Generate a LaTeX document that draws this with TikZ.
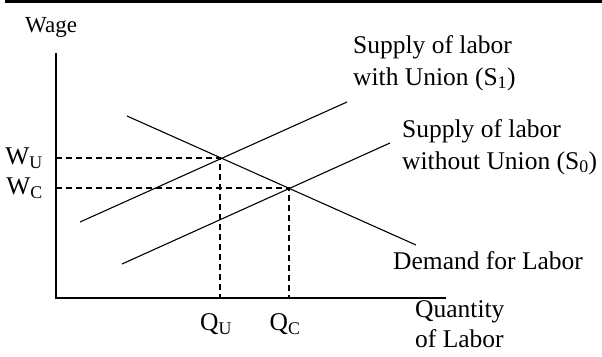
\documentclass[tikz,border=0pt]{standalone}
\usepackage{fontspec}
\setmainfont{Liberation Serif}
\begin{document}
\begin{tikzpicture}[x=1pt,y=-1pt,
  lab/.style={inner sep=0pt,font=\fontsize{25.5}{32}\selectfont},
  axis/.style={line width=1.4pt},
  curve/.style={line width=1.1pt},
  guide/.style={line width=1.1pt,dash pattern=on 6pt off 4pt}]
\useasboundingbox (0,0) rectangle (602,356);
\fill[white] (0,0) rectangle (602,356);
% top rule
\coordinate (tl) at (5,1.5);
\coordinate (tr) at (602,1.5);
\draw[line width=3pt] (tl) -- (tr);
% axes
\coordinate (ytop) at (56,53);
\coordinate (o) at (56,298);
\coordinate (xend) at (446,298);
\draw[axis] (ytop) -- (o) -- (xend);
% equilibria
\coordinate (eu) at (220,158);
\coordinate (ec) at (289,188);
\coordinate (wu) at (56,158);
\coordinate (wc) at (56,188);
\coordinate (qu) at (220,298);
\coordinate (qc) at (289,298);
% curves
\coordinate (d1) at (127,116);
\coordinate (d2) at (416,245);
\coordinate (s11) at (80,222);
\coordinate (s12) at (347,102);
\coordinate (s01) at (122,264);
\coordinate (s02) at (390,143);
\draw[curve] (d1) -- (d2);
\draw[curve] (s11) -- (s12);
\draw[curve] (s01) -- (s02);
% guides
\draw[guide] (wu) -- (eu) -- (qu);
\draw[guide] (wc) -- (ec) -- (qc);
% labels
\node[lab,font=\fontsize{23}{28}\selectfont,anchor=west] (wage) at (25,27) {Wage};
\node[lab,anchor=east] (lwu) at (43,158) {W\textsubscript{U}};
\node[lab,anchor=east] (lwc) at (43,188) {W\textsubscript{C}};
\node[lab] (lqu) at (216,324) {Q\textsubscript{U}};
\node[lab] (lqc) at (285,324) {Q\textsubscript{C}};
\node[lab,anchor=west,align=left,font=\fontsize{25.5}{30}\selectfont] (lq) at (415,324) {Quantity\\of Labor};
\node[lab,anchor=west] (ld) at (393,261) {Demand for Labor};
\node[lab,anchor=west,align=left] (ls1) at (353,63) {Supply of labor\\with Union (S\textsubscript{1})};
\node[lab,anchor=west,align=left] (ls0) at (402,147) {Supply of labor\\without Union (S\textsubscript{0})};
\end{tikzpicture}
\end{document}
